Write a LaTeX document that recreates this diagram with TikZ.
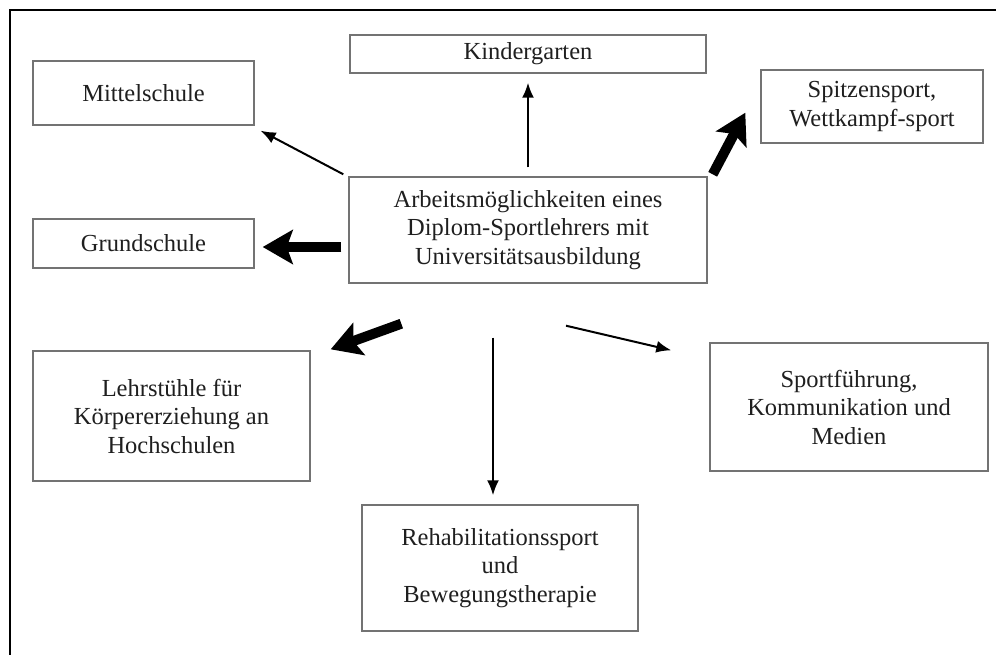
\documentclass[tikz,border=0pt]{standalone}
\usepackage{fontspec}
\setmainfont{Liberation Serif}
\usetikzlibrary{arrows.meta}
\begin{document}
\begin{tikzpicture}[x=1pt,y=-1pt,
  box/.style={draw=black!55, line width=1.4pt, fill=white, align=center, inner sep=0pt,
    text=black!88, font=\fontsize{24.5}{28.5}\selectfont},
  thinarrow/.style={draw=black, line width=2pt, -{Latex[length=15pt,width=12pt]}},
  thickarrow/.style={draw=black, line width=10pt, line cap=butt, -{Stealth[length=30pt,width=34pt,inset=6pt]}}]
\useasboundingbox (0,0) rectangle (996,655);
\fill[white] (0,0) rectangle (996,655);
\draw[line width=2.4pt, black] (10,655) -- (10,10) -- (996,10);

\node[box, minimum width=356pt, minimum height=38pt] (kg) at (528,54) {Kindergarten};
\node[box, minimum width=221pt, minimum height=64pt] (ms) at (143.5,93) {Mittelschule};
\node[box, minimum width=222pt, minimum height=73pt] (sp) at (872,106.5) {Spitzensport,\\Wettkampf-sport};
\node[box, minimum width=358pt, minimum height=106pt] (c) at (528,230) {Arbeitsmöglichkeiten eines\\Diplom-Sportlehrers mit\\Universitätsausbildung};
\node[box, minimum width=221pt, minimum height=49pt] (gs) at (143.5,243.5) {Grundschule};
\node[box, minimum width=277pt, minimum height=130pt] (ls) at (171.5,416) {Lehrstühle für\\Körpererziehung an\\Hochschulen};
\node[box, minimum width=278pt, minimum height=128pt] (sf) at (849,407) {Sportführung,\\Kommunikation und\\Medien};
\node[box, minimum width=276pt, minimum height=126pt] (rh) at (500,568) {Rehabilitationssport\\und\\Bewegungstherapie};

\draw[thinarrow] ([shift={(0,-9)}]c.north) -- ([shift={(0,9)}]kg.south);
\draw[thinarrow] ([shift={(-5,-2)}]c.north west) -- ([shift={(6,5)}]ms.south east);
\draw[thickarrow] ([shift={(5,-2)}]c.north east) -- ([shift={(-15,-31)}]sp.south west);
\draw[thickarrow] ([shift={(-7,17)}]c.west) -- ([shift={(8,3.5)}]gs.east);
\draw[thickarrow] ([shift={(53,40)}]c.south west) -- ([shift={(20,-1)}]ls.north east);
\draw[thinarrow] ([shift={(-35,54)}]c.south) -- ([shift={(-7,-9)}]rh.north);
\draw[thinarrow] ([shift={(38,42)}]c.south) -- ([shift={(-38,8)}]sf.north west);
\end{tikzpicture}
\end{document}
